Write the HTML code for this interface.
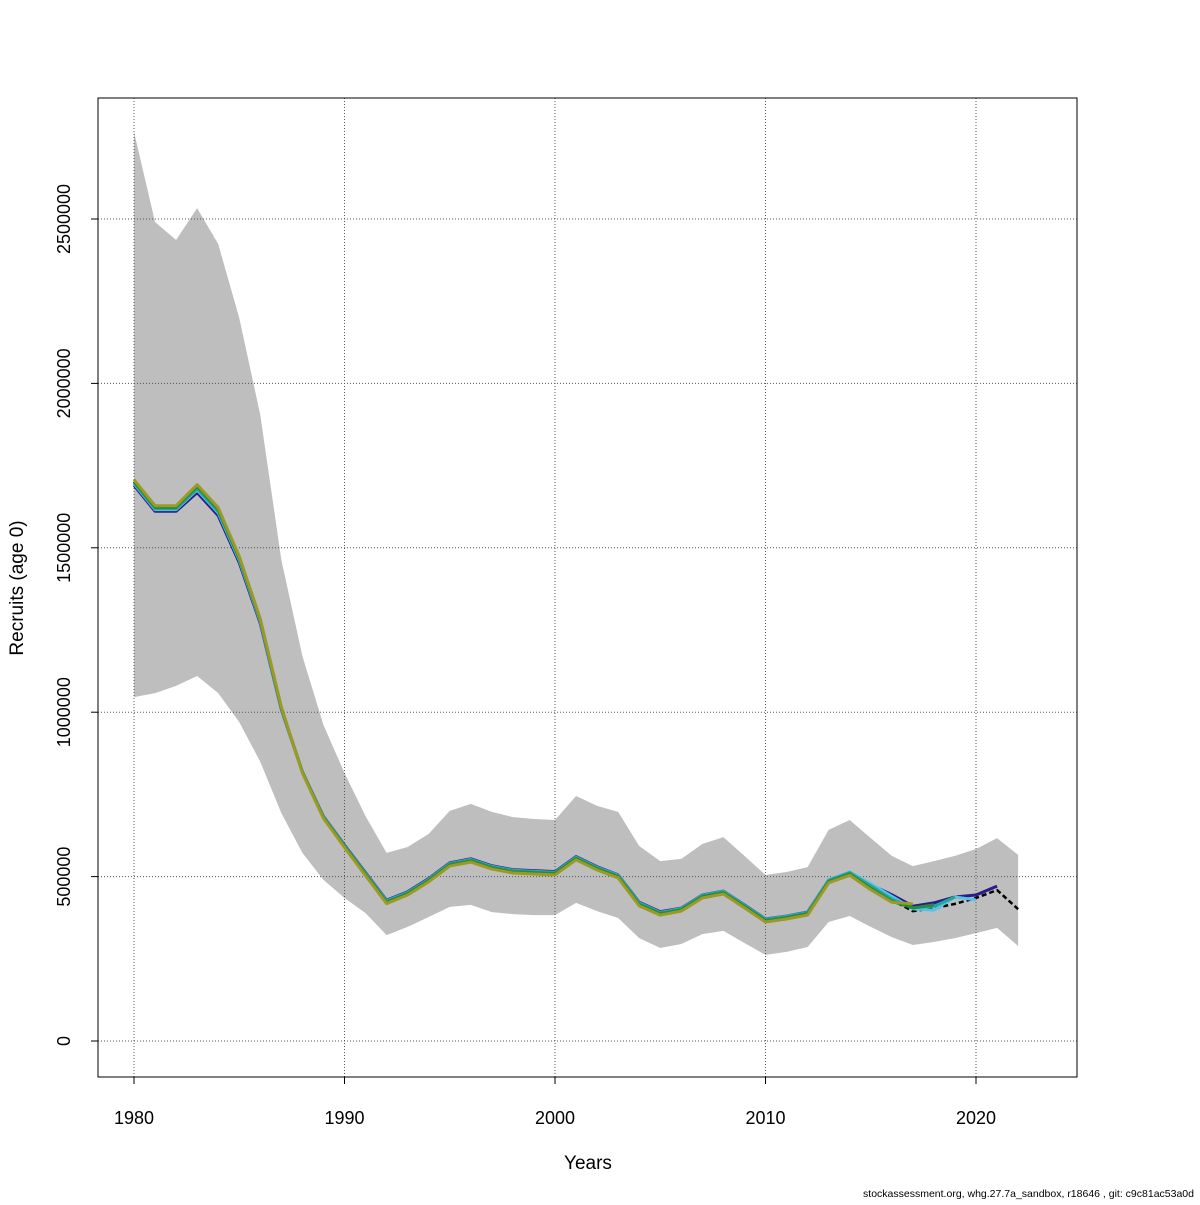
<!DOCTYPE html>
<html><head><meta charset="utf-8"><style>
body{margin:0;background:#fff}
svg text{font-family:"Liberation Sans",sans-serif}
</style></head><body>
<svg id="c" width="1200" height="1200" xmlns="http://www.w3.org/2000/svg">
<rect x="0" y="0" width="1200" height="1200" fill="#fff"/>
<g id="band"></g><g id="grid"></g><g id="lines"></g><g id="axes"></g>
<rect x="98" y="98" width="979" height="979" fill="none" stroke="#000"/>
<text x="588" y="1169" font-size="19" text-anchor="middle">Years</text>
<text transform="translate(23,588) rotate(-90)" font-size="19" text-anchor="middle">Recruits (age 0)</text>
<text x="1194" y="1197" font-size="10.5" text-anchor="end">stockassessment.org, whg.27.7a_sandbox, r18646 , git: c9c81ac53a0d</text>
</svg>
<script>
const years=[1980,1981,1982,1983,1984,1985,1986,1987,1988,1989,1990,1991,1992,1993,1994,1995,1996,1997,1998,1999,2000,2001,2002,2003,2004,2005,2006,2007,2008,2009,2010,2011,2012,2013,2014,2015,2016,2017,2018,2019,2020,2021,2022];
const mainRec=[1700000,1621000,1621000,1685000,1615000,1469000,1280000,1013000,818000,681000,593000,508000,423000,450000,490000,538000,550000,529000,517000,514000,511000,557000,526000,502000,417000,389000,401000,441000,453000,411000,368000,377000,389000,487000,511000,468000,429000,395000,404000,417000,435000,459000,401000];
const upper=[2765000,2491000,2436000,2533000,2424000,2199000,1904000,1463000,1171000,961000,815000,684000,572000,590000,630000,700000,721000,697000,681000,675000,672000,745000,715000,697000,593000,547000,554000,599000,620000,563000,505000,514000,529000,642000,672000,617000,563000,532000,547000,563000,584000,617000,566000];
const lower=[1046000,1058000,1080000,1110000,1058000,970000,849000,693000,572000,490000,435000,389000,322000,347000,377000,408000,414000,392000,386000,383000,383000,420000,395000,374000,313000,283000,295000,325000,335000,298000,262000,271000,286000,362000,380000,347000,316000,292000,301000,313000,328000,344000,289000];
const retro2021=[1690000,1611000,1611000,1668000,1598000,1455000,1270000,1008000,818000,683000,596000,512000,428000,454000,494000,542000,554000,533000,521000,518000,515000,561000,530000,505000,422000,393000,404000,444000,456000,414000,371000,380000,392000,490000,513000,475000,445000,410000,420000,438000,444000,471000];
const retro2020=[1695000,1616000,1616000,1676000,1606000,1462000,1275000,1010000,818000,682000,594000,510000,426000,452000,492000,540000,552000,531000,519000,516000,513000,559000,528000,504000,420000,391000,403000,443000,455000,413000,370000,379000,391000,490000,514000,478000,440000,402000,398000,438000,429000];
const retro2019=[1698000,1619000,1619000,1680000,1610000,1466000,1278000,1012000,818000,681000,593000,509000,425000,451000,491000,539000,551000,530000,518000,515000,512000,558000,527000,503000,419000,390000,402000,442000,454000,412000,369000,378000,390000,488000,512000,472000,432000,405000,410000,438000];
const retro2018=[1702000,1623000,1623000,1687000,1617000,1470000,1281000,1013000,818000,680000,592000,507000,422000,448000,488000,536000,548000,527000,515000,512000,509000,555000,524000,500000,415000,387000,399000,439000,451000,409000,366000,375000,387000,485000,508000,465000,425000,405000,414000];
const retro2017=[1707000,1628000,1628000,1692000,1622000,1474000,1284000,1016000,815000,677000,589000,503000,418000,444000,484000,532000,544000,523000,511000,508000,505000,551000,520000,496000,411000,383000,395000,435000,447000,405000,362000,371000,383000,481000,504000,460000,422000,417000];
const yTicks=[0,500000,1000000,1500000,2000000,2500000];
const xTicks=[1980,1990,2000,2010,2020];

const X=y=>134+(y-1980)*21.05;
const Y=v=>1041-v/500000*164.4;
const NS="http://www.w3.org/2000/svg";
function mk(tag,parent,attrs){const e=document.createElementNS(NS,tag);for(const k in attrs)e.setAttribute(k,attrs[k]);parent.appendChild(e);return e;}
const band=document.getElementById('band'),grid=document.getElementById('grid'),lines=document.getElementById('lines'),axes=document.getElementById('axes');
let pts=years.map((y,i)=>X(y)+','+Y(upper[i]));
for(let i=years.length-1;i>=0;i--)pts.push(X(years[i])+','+Y(lower[i]));
const poly=mk('polygon',band,{points:pts.join(' '),fill:'#bebebe'});


xTicks.forEach(t=>{
 const g=mk('line',grid,{x1:X(t),x2:X(t),y1:98,y2:1077,stroke:'#555','stroke-dasharray':'1,2'});
 
 
 const tk=mk('line',axes,{x1:X(t),x2:X(t),y1:1077,y2:1084,stroke:'#000'});
 
 
 const tx=mk('text',axes,{x:X(t),y:1124,'font-size':18,'text-anchor':'middle'});
 tx.textContent=t;
 
 
});
yTicks.forEach(t=>{
 const g=mk('line',grid,{x1:98,x2:1077,y1:Y(t),y2:Y(t),stroke:'#555','stroke-dasharray':'1,2'});
 
 
 const tk=mk('line',axes,{x1:91,x2:98,y1:Y(t),y2:Y(t),stroke:'#000'});
 
 
 const tx=mk('text',axes,{transform:'translate(70,'+Y(t)+') rotate(-90)','font-size':18,'text-anchor':'middle'});
 tx.textContent=t;
 
 
});
function line(arr,color,w,name,dash){
 const p=mk('polyline',lines,{points:arr.map((v,i)=>X(years[i])+','+Y(v)).join(' '),fill:'none',stroke:color,'stroke-width':w,'stroke-linejoin':'round'});
 if(dash)p.setAttribute('stroke-dasharray',dash);
 
 
}
line(mainRec,'#000',2.5,'main-recruitment-line','5,3');
line(retro2021,'#2a1b8c',3,'retro-2021-line');
line(retro2020,'#55c3e8',3,'retro-2020-line');
line(retro2019,'#22a69a',3,'retro-2019-line');
line(retro2018,'#238b3a',3,'retro-2018-line');
line(retro2017,'#9c9a22',3,'retro-2017-line');
</script>
</body></html>
